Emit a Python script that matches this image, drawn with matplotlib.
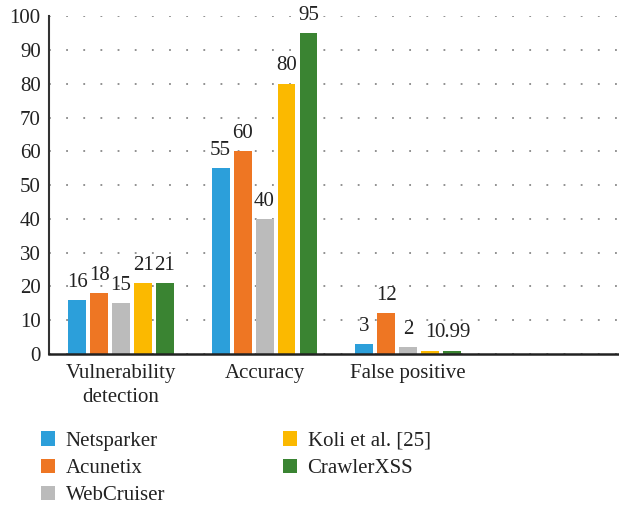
import matplotlib
matplotlib.use("Agg")
import matplotlib.pyplot as plt
import numpy as np

categories = ["Vulnerability\ndetection", "Accuracy", "False positive"]
tools = ["Netsparker", "Acunetix", "WebCruiser", "Koli et al. [25]", "CrawlerXSS"]
netsparker = [16, 55, 3]
acunetix = [18, 60, 12]
webcruiser = [15, 40, 2]
koli = [21, 80, 1]
crawlerxss = [21, 95, 0.99]
labels_text = [["16", "55", "3"], ["18", "60", "12"], ["15", "40", "2"],
               ["21", "80", "1"], ["21", "95", "0.99"]]
colors = ["#2C9FDA", "#EE7623", "#BBBBBB", "#FBB900", "#3A8432"]
yticks = list(range(0, 101, 10))

plt.rcParams['font.family'] = ['Liberation Serif', 'DejaVu Serif']

fig = plt.figure(figsize=(6.19, 5.05), dpi=100)
ax = fig.add_axes([0.0792, 0.299, 0.9208, 0.669])

series = [netsparker, acunetix, webcruiser, koli, crawlerxss]
x = np.arange(len(categories))
pitch = 0.153
width = 0.125
handles = []
for i, (vals, col) in enumerate(zip(series, colors)):
    bars = ax.bar(x + (i - 2) * pitch, vals, width=width, color=col, label=tools[i], zorder=3)
    ax.bar_label(bars, labels=labels_text[i], padding=6, fontsize=15, color="#222222")
    handles.append(bars)

ax.set_xlim(-0.502, 3.47)
ax.set_ylim(0, 100)
ax.set_yticks(yticks)
ax.set_yticklabels([str(t) for t in yticks], fontsize=15, color="#222222")
ax.set_xticks(x)
ax.set_xticklabels(categories, fontsize=15, color="#222222", linespacing=1.35)
ax.tick_params(axis='both', length=0, pad=6)
ax.tick_params(axis='x', pad=7)

ax.yaxis.grid(True, linestyle=(0, (1, 8.5)), color="#888888", linewidth=1.3, zorder=0)
for s in ["top", "right"]:
    ax.spines[s].set_visible(False)
ax.spines["left"].set_color("#333333")
ax.spines["left"].set_linewidth(1.5)
ax.spines["bottom"].set_color("#222222")
ax.spines["bottom"].set_linewidth(1.8)
ax.spines["left"].set_zorder(4)
ax.spines["bottom"].set_zorder(4)

fig.legend(handles=handles, labels=tools, loc="upper left", bbox_to_anchor=(0.0665, 0.146),
           ncol=2, frameon=False, fontsize=15, handlelength=0.68, handleheight=0.68,
           handletextpad=0.5, columnspacing=5.65, labelspacing=0.38, borderaxespad=0,
           borderpad=0, labelcolor="#222222")

fig.savefig("out.png", dpi=100)
